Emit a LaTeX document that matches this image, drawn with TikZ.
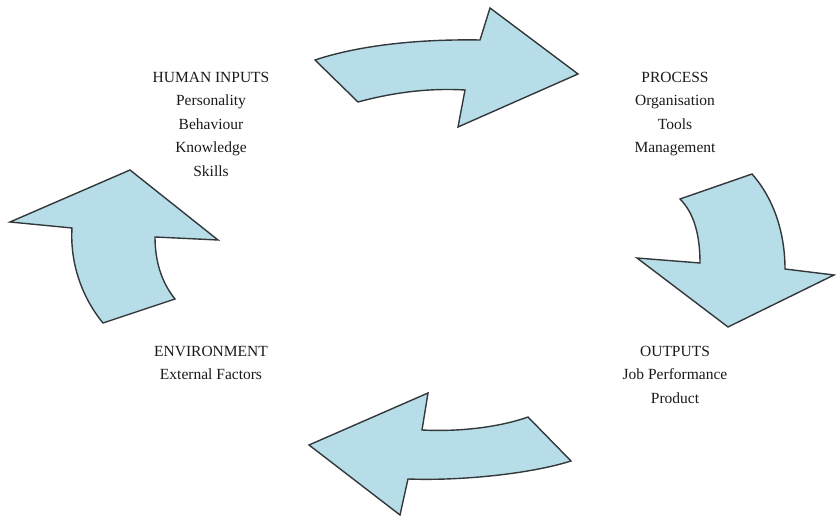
\documentclass[tikz,border=0pt]{standalone}
\usepackage{fontspec}
\setmainfont{Liberation Serif}
\definecolor{arrowfill}{HTML}{B7DEE8}
\definecolor{arrowline}{HTML}{33383B}
\definecolor{txt}{HTML}{1A1A1A}
\tikzset{
  bigarrow/.style={fill=arrowfill, draw=arrowline, line width=1.4pt, line join=miter},
  label/.style={align=center, inner sep=0pt, anchor=north, text=txt,
    font=\fontsize{15.5}{23.5}\selectfont}
}
\begin{document}
\begin{tikzpicture}[x=1pt,y=-1pt]
\useasboundingbox (0,0) rectangle (836,518);
% top arrow (to the right)
\draw[bigarrow] (315,60) .. controls (360,45) and (420,39) .. (480,40)
  -- (490,8) -- (578,74) -- (458,127) -- (465,90)
  .. controls (430,88) and (395,92) .. (358,102) -- cycle;
% right arrow (downward)
\draw[bigarrow] (680,199) -- (752,174)
  .. controls (775,200) and (785,235) .. (785,269)
  -- (834,275) -- (728,327) -- (637,258) -- (700,263)
  .. controls (700,235) and (694,213) .. (680,199) -- cycle;
% bottom arrow (to the left)
\draw[bigarrow] (571,461) .. controls (530,474) and (460,481) .. (408,479)
  -- (400,515) -- (309,445) -- (428,393) -- (422,430)
  .. controls (460,432) and (500,427) .. (528,417) -- cycle;
% left arrow (upward)
\draw[bigarrow] (103,323) .. controls (80,295) and (70,260) .. (72,228)
  -- (10,222) -- (130,170) -- (218,240) -- (155,237)
  .. controls (155,262) and (162,283) .. (175,299) -- cycle;
% labels
\node[label] (inputs) at (211,72) {HUMAN INPUTS\\Personality\\Behaviour\\Knowledge\\Skills};
\node[label] (process) at (675,72) {PROCESS\\Organisation\\Tools\\Management};
\node[label] (outputs) at (675,346) {OUTPUTS\\Job Performance\\Product};
\node[label] (environment) at (211,346) {ENVIRONMENT\\External Factors};
\end{tikzpicture}
\end{document}
